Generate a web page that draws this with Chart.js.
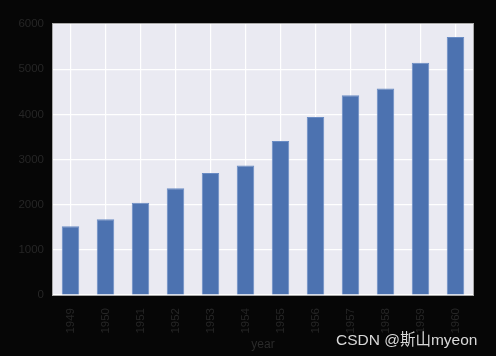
<!DOCTYPE html>
<html>
<head>
<meta charset="utf-8">
<script src="https://cdn.jsdelivr.net/npm/chart.js@4"></script>
<style>
html,body{margin:0;padding:0;background:#060606;}
#wrap{position:relative;width:496px;height:356px;}
#wm{position:absolute;left:336px;top:327px;font:15.5px "Liberation Sans","Noto Sans CJK SC",sans-serif;color:#d8d8d8;white-space:nowrap;}
</style>
</head>
<body>
<div id="wrap">
<canvas id="c" width="496" height="356"></canvas>
<div id="wm">CSDN @斯山myeon</div>
</div>
<script>
const years = ['1949','1950','1951','1952','1953','1954','1955','1956','1957','1958','1959','1960'];
const passengers = [1520,1676,2042,2364,2700,2867,3408,3939,4421,4572,5140,5714];
const yTicks = [0,1000,2000,3000,4000,5000,6000];
const xTitle = 'year';

const plotBg = {
  id:'plotBg',
  beforeDraw(chart){
    const {ctx, chartArea:a} = chart;
    ctx.save();
    ctx.fillStyle = '#EAEAF2';
    ctx.fillRect(a.left, a.top, a.right-a.left, a.bottom-a.top);
    ctx.restore();
  },
  afterDraw(chart){
    const {ctx, chartArea:a} = chart;
    ctx.save();
    ctx.strokeStyle = '#a8a8a8';
    ctx.lineWidth = 1;
    ctx.strokeRect(a.left-0.5, a.top-0.5, a.right-a.left+1, a.bottom-a.top+1);
    ctx.restore();
  }
};

new Chart(document.getElementById('c'), {
  type:'bar',
  data:{
    labels: years,
    datasets:[{
      data: passengers,
      backgroundColor:'#4C72B0',
      borderColor:'#6a8cc4',
      borderWidth:1,
      barPercentage:0.5,
      categoryPercentage:1.0
    }]
  },
  options:{
    responsive:false,
    animation:false,
    layout:{padding:{left:0,right:23,top:24,bottom:0}},
    plugins:{legend:{display:false},tooltip:{enabled:false}},
    scales:{
      x:{
        offset:true,
        grid:{offset:false,color:'#ffffff',lineWidth:1.2,drawTicks:false},
        border:{display:false},
        ticks:{color:'#262626',font:{family:'Liberation Sans',size:11.5},maxRotation:90,minRotation:90,padding:13},
        title:{display:true,text:xTitle,color:'#2a2a2a',font:{family:'Liberation Sans',size:12},padding:{top:0,bottom:4}},
        afterFit(s){ s.height = 61; }
      },
      y:{
        min:0,max:6000,
        afterBuildTicks(s){ s.ticks = yTicks.map(v=>({value:v})); },
        grid:{color:'#ffffff',lineWidth:1.2,drawTicks:false},
        border:{display:false},
        ticks:{color:'#262626',font:{family:'Liberation Sans',size:11.5},padding:9,callback:v=>String(v)},
        afterFit(s){ s.width = 53; }
      }
    }
  },
  plugins:[plotBg]
});
</script>
</body>
</html>
